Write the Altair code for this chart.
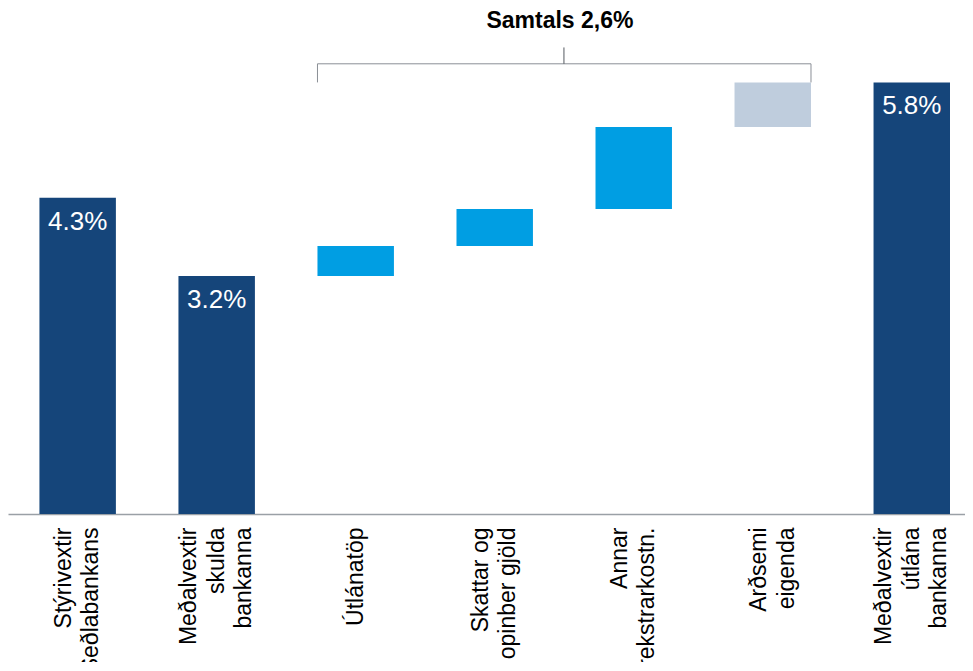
import altair as alt
import pandas as pd

categories = ["Stýrivextir|Seðlabankans", "Meðalvextir|skulda|bankanna", "Útlánatöp",
              "Skattar og|opinber gjöld", "Annar|rekstrarkostn.", "Arðsemi|eigenda",
              "Meðalvextir|útlána|bankanna"]
starts = [0, 0, 3.2, 3.6, 4.1, 5.2, 0]
ends = [4.25, 3.2, 3.6, 4.1, 5.2, 5.8, 5.8]
kinds = ["total", "total", "step", "step", "step", "profit", "total"]
labels = ["4.3%", "3.2%", "", "", "", "", "5.8%"]

bracket_y = 6.05
bracket_top = 6.27
title_y = 6.62
title_text = "Samtals 2,6%"

df = pd.DataFrame({"cat": categories, "start": starts, "end": ends, "kind": kinds, "label": labels})

PI = 0.45
LH = 27.5
xscale = alt.Scale(domain=categories, paddingInner=PI, paddingOuter=0.167, align=0.677)
yscale = alt.Scale(domain=[0, 6.8], nice=False, zero=True)

xax = alt.Axis(title=None, labelAngle=-90, labelAlign="right", labelBaseline="middle",
               labelFont="Liberation Sans", labelFontSize=23, labelColor="#000000",
               labelLineHeight=LH, labelPadding=13, labelLimit=400, ticks=False,
               labelOffset={"expr": f"-(length(split(datum.value, '|')) - 1) * {LH / 2}"},
               domainColor="#9aa0a6", domainWidth=1.5, grid=False,
               labelExpr="split(datum.value, '|')")

bars = alt.Chart(df).mark_bar().encode(
    x=alt.X("cat:N", scale=xscale, axis=xax, sort=categories),
    y=alt.Y("start:Q", scale=yscale, axis=None),
    y2="end:Q",
    color=alt.Color("kind:N", scale=alt.Scale(domain=["total", "step", "profit"],
                                              range=["#15457a", "#009ee3", "#bfcddd"]), legend=None),
)

texts = alt.Chart(df).mark_text(baseline="top", dy=11, color="white", fontSize=26,
                                font="Liberation Sans").encode(
    x=alt.X("cat:N", scale=xscale, sort=categories),
    y=alt.Y("end:Q", scale=yscale),
    text="label:N",
)

br = pd.DataFrame({"a": [categories[2]], "b": [categories[5]], "mid": [categories[3]],
                   "y": [bracket_y], "ylo": [5.8], "yhi": [bracket_top], "ty": [title_y],
                   "t": [title_text]})

hline = alt.Chart(br).mark_rule(color="#8a8f96", strokeWidth=1).encode(
    x=alt.X("a:N", scale=xscale, bandPosition=0),
    x2=alt.X2("b:N", bandPosition=1),
    y=alt.Y("y:Q", scale=yscale),
)
ltick = alt.Chart(br).mark_rule(color="#8a8f96", strokeWidth=1).encode(
    x=alt.X("a:N", scale=xscale, bandPosition=0),
    y=alt.Y("ylo:Q", scale=yscale), y2="y:Q",
)
rtick = alt.Chart(br).mark_rule(color="#8a8f96", strokeWidth=1).encode(
    x=alt.X("b:N", scale=xscale, bandPosition=1),
    y=alt.Y("ylo:Q", scale=yscale), y2="y:Q",
)
ctick = alt.Chart(br).mark_rule(color="#555a60", strokeWidth=1, xOffset=31).encode(
    x=alt.X("mid:N", scale=xscale, bandPosition=1),
    y=alt.Y("y:Q", scale=yscale), y2="yhi:Q",
)
title = alt.Chart(br).mark_text(fontSize=23, fontWeight="bold", font="Liberation Sans Narrow, Liberation Sans",
                                color="#000000", dx=27).encode(
    x=alt.X("mid:N", scale=xscale, bandPosition=1),
    y=alt.Y("ty:Q", scale=yscale),
    text="t:N",
)

chart = alt.layer(bars, texts, hline, ltick, rtick, ctick, title).properties(
    width=957, height=506,
    padding={"left": 0, "top": 0, "right": 0, "bottom": 148},
    autosize=alt.AutoSizeParams(type="none")
).configure_view(stroke=None)

chart.save("out.html", embed_options={"renderer": "svg", "actions": False})
